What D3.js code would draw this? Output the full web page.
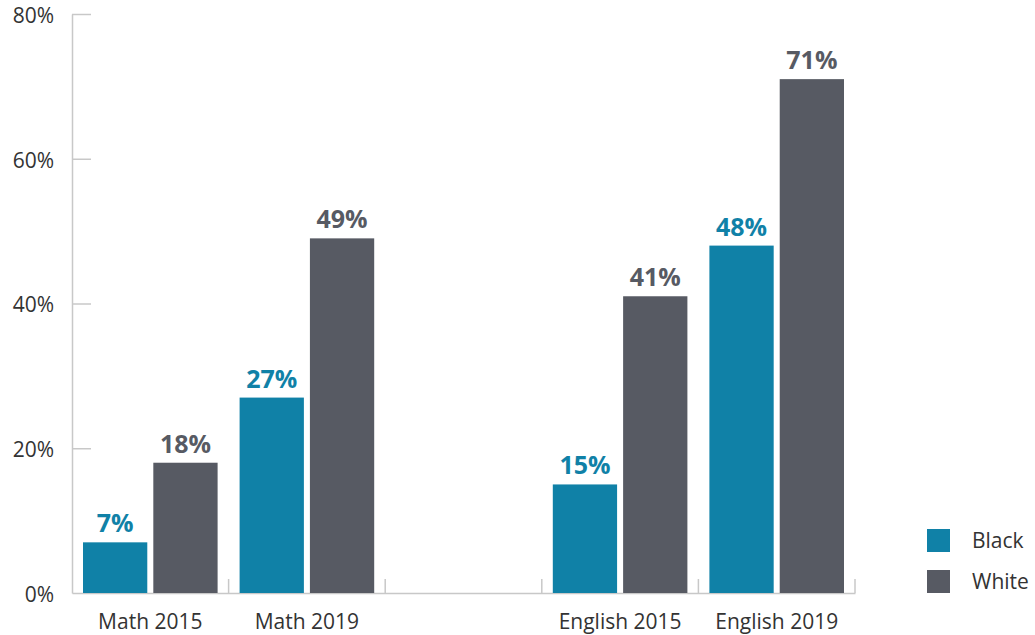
<!DOCTYPE html>
<html>
<head>
<meta charset="utf-8">
<script src="https://cdn.jsdelivr.net/npm/d3@7"></script>
<style>
  body { margin: 0; background: #fff; }
  svg { font-family: "Open Sans", sans-serif; }
</style>
</head>
<body>
<svg id="chart"></svg>
<script>
// data
const categories = ['Math 2015', 'Math 2019', '', 'English 2015', 'English 2019'];
const seriesNames = ['Black', 'White'];
const blackValues = [7, 27, null, 15, 48];
const whiteValues = [18, 49, null, 41, 71];
const yTicks = [0, 20, 40, 60, 80];

const colors = { Black: '#1081a7', White: '#575a63' };

const width = 1035, height = 635;
const margin = { top: 14, right: 180, bottom: 42, left: 72 };

const svg = d3.select('#chart').attr('width', width).attr('height', height);

// key each category by index so the empty gap slot is unique
const keys = categories.map((c, i) => i);
const rows = keys.map(i => ({ key: i, label: categories[i], Black: blackValues[i], White: whiteValues[i] }));

const x0 = d3.scaleBand()
  .domain(keys)
  .range([margin.left, width - margin.right])
  .padding(0);

const x1 = d3.scaleBand()
  .domain(seriesNames)
  .range([11, x0.bandwidth() - 11])
  .paddingInner(6 / 70);

const y = d3.scaleLinear()
  .domain([0, 80])
  .range([height - margin.bottom, margin.top]);

const axisColor = '#c8c8c8';
const labelFont = '21px';

// y axis
const yAxis = svg.append('g')
  .attr('transform', `translate(${margin.left},0)`)
  .call(d3.axisLeft(y).tickValues(yTicks).tickFormat(d => d + '%')
    .tickSizeInner(-19).tickSizeOuter(0).tickPadding(18));
yAxis.select('.domain').attr('stroke', axisColor).attr('stroke-width', 1.5);
yAxis.selectAll('.tick line').attr('stroke', axisColor).attr('stroke-width', 1.5);
yAxis.selectAll('.tick line').filter(d => d === 0).remove();
yAxis.selectAll('.tick text')
  .attr('fill', '#333')
  .style('font-size', labelFont)
  .style('font-family', '"Open Sans", sans-serif')
  .attr('dy', '0.4em');

// x axis: baseline + boundary ticks + centered labels
const xAxis = svg.append('g')
  .attr('transform', `translate(0,${y(0)})`)
  .call(d3.axisBottom(x0).tickSize(0).tickPadding(0).tickFormat(i => categories[i]));
xAxis.select('.domain').attr('stroke', axisColor).attr('stroke-width', 1.5);
xAxis.selectAll('.tick text')
  .attr('fill', '#333')
  .style('font-size', labelFont)
  .style('font-family', '"Open Sans", sans-serif')
  .attr('y', 36)
  .attr('dy', 0);

const bounds = keys.slice(1).map(k => x0(k)).concat([x0.range()[1]]);
xAxis.selectAll('.bound')
  .data(bounds)
  .enter()
  .append('line')
  .attr('class', 'bound')
  .attr('x1', d => d).attr('x2', d => d)
  .attr('y1', 0).attr('y2', -14)
  .attr('stroke', axisColor)
  .attr('stroke-width', 1.5);

// bars
const groups = svg.selectAll('.group')
  .data(rows.filter(r => r.Black != null))
  .enter()
  .append('g')
  .attr('class', 'group')
  .attr('transform', d => `translate(${x0(d.key)},0)`);

const cells = groups.selectAll('.cell')
  .data(d => seriesNames.map(s => ({ series: s, value: d[s] })))
  .enter();

cells.append('rect')
  .attr('x', d => x1(d.series))
  .attr('width', x1.bandwidth())
  .attr('y', d => y(d.value))
  .attr('height', d => y(0) - y(d.value))
  .attr('fill', d => colors[d.series]);

cells.append('text')
  .attr('x', d => x1(d.series) + x1.bandwidth() / 2)
  .attr('y', d => y(d.value) - 10)
  .attr('text-anchor', 'middle')
  .attr('fill', d => colors[d.series])
  .style('font-size', '25px')
  .style('font-weight', 'bold')
  .text(d => d.value + '%');

// legend
const legend = svg.append('g').attr('transform', 'translate(927,529)');
const item = legend.selectAll('.item')
  .data(seriesNames)
  .enter()
  .append('g')
  .attr('transform', (d, i) => `translate(0,${i * 41})`);
item.append('rect')
  .attr('width', 23).attr('height', 23)
  .attr('fill', d => colors[d]);
item.append('text')
  .attr('x', 45)
  .attr('y', 12)
  .attr('dy', '0.35em')
  .attr('fill', '#333')
  .style('font-size', labelFont)
  .text(d => d);
</script>
</body>
</html>
